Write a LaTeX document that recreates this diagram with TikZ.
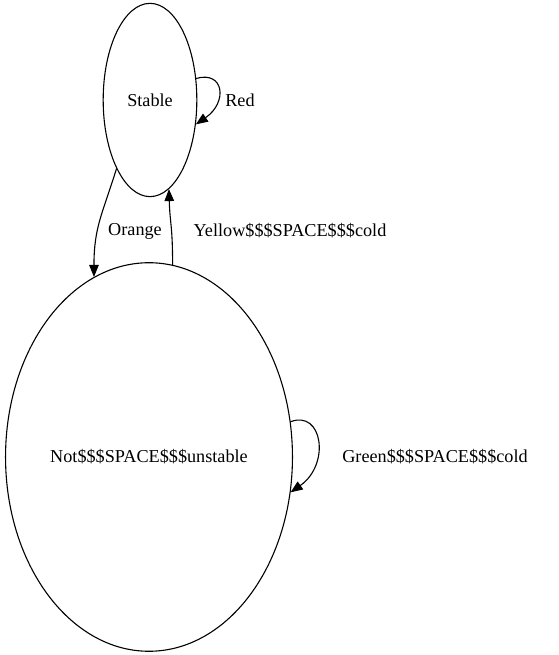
\documentclass[tikz,border=0pt]{standalone}
\usepackage{fontspec}
\setmainfont{Liberation Serif}
\usetikzlibrary{arrows.meta}
\usetikzlibrary{shapes.geometric}

\begin{document}
\begin{tikzpicture}[line cap=round,line join=round,>={Triangle[length=12bp,width=9.5bp]},x=1bp,y=1bp,
    line width=1.1bp,
    every node/.style={font=\fontsize{18.2bp}{22bp}\selectfont},
    state/.style={draw, ellipse, inner sep=0pt}]
    \useasboundingbox (0,0) rectangle (559,655);
    % states
    \node[state, minimum width=94, minimum height=194] (stable) at (150,555) {Stable};
    \node[state, minimum width=288, minimum height=390] (notunstable) at (149,198) {Not\$\$\$SPACE\$\$\$unstable};
    % transitions
    \draw[->] (stable.25) .. controls +(28,8) and +(32,22) .. (stable.-28);
    \node (red) at (240,555) {Red};
    \draw[->] (stable.244) .. controls +(-14,-45) and +(0,50) .. (notunstable.107);
    \node (orange) at (135,424) {Orange};
    \draw[->] (notunstable.83) .. controls +(0,40) and +(1,-35) .. (stable.-78);
    \node (yellow) at (290,424) {Yellow\$\$\$SPACE\$\$\$cold};
    \draw[->] (notunstable.14) .. controls +(32,12) and +(40,28) .. (notunstable.-14);
    \node (green) at (435,198) {Green\$\$\$SPACE\$\$\$cold};
\end{tikzpicture}
\end{document}
